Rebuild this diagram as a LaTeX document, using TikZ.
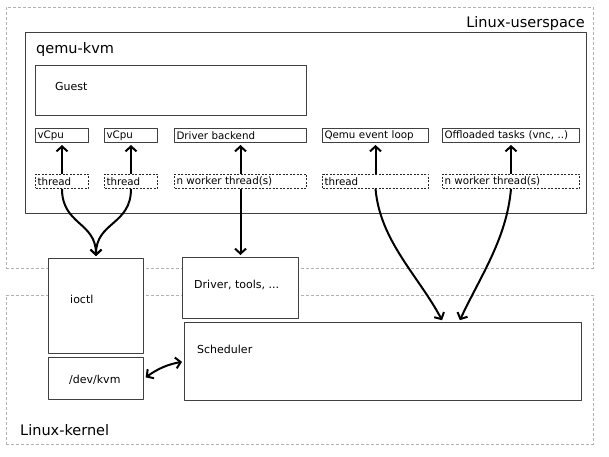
\documentclass[tikz,border=0pt]{standalone}
\usepackage{fontspec}
\setmainfont{DejaVu Sans}
\usetikzlibrary{arrows.meta,positioning}

\begin{document}
\begin{tikzpicture}[
    x = 1pt, y = -1pt, % one unit per pixel, y running down
    > = {Straight Barb[length=5pt,width=11pt]}, % arrow head style
    shorten > = 2pt, % don't touch arrow head to node
    line join = round
    ]

    \tikzset{
    zone/.style = {draw = gray!60, dash pattern = on 3pt off 2pt, line width = 0.6pt, anchor = north west, inner sep = 0pt},
    box/.style = {draw = black!75, fill = white, line width = 1pt, anchor = north west, inner sep = 0pt},
    unit/.style = {box, minimum height = 14pt, text width = #1, inner xsep = 2pt, align = left, font = \fontsize{10.3}{12}\selectfont},
    thrd/.style = {unit = #1, draw = black!85, line width = 0.8pt, dash pattern = on 2pt off 1.5pt},
    tag/.style = {anchor = base west, inner sep = 0pt, font = \fontsize{11}{13}\selectfont},
    title/.style = {anchor = base west, inner sep = 0pt, font = \fontsize{14.5}{17}\selectfont},
    link/.style = {->, line width = 2pt, black}
    }
    \useasboundingbox (0,0) rectangle (609,456);

    % user space and kernel
    \node[zone, minimum width = 587pt, minimum height = 261pt] (user) at (6,7) {};
    \node[zone, minimum width = 587pt, minimum height = 149pt] (kern) at (6,295) {};
    \node[title, anchor = base east] (userlbl) at (585,27) {Linux-userspace};
    \node[title] (kernlbl) at (20,435) {Linux-kernel};

    % qemu process
    \node[box, minimum width = 561pt, minimum height = 181pt] (qemu) at (25,32) {};
    \node[title] (qemulbl) at (36,53) {qemu-kvm};
    \node[box, minimum width = 271pt, minimum height = 50pt] (guest) at (35,65) {};
    \node[tag] (guestlbl) at (55,90) {Guest};

    \node[unit = 49pt] (vcpuA) at (35,128) {vCpu};
    \node[unit = 49pt] (vcpuB) at (104,128) {vCpu};
    \node[unit = 128pt] (backend) at (174,128) {Driver backend};
    \node[unit = 102pt] (evloop) at (322,128) {Qemu event loop};
    \node[unit = 133pt] (offload) at (442,128) {Offloaded tasks (vnc, ..)};

    \node[thrd = 49pt] (tA) [below = 31pt of vcpuA] {thread};
    \node[thrd = 49pt] (tB) [below = 31pt of vcpuB] {thread};
    \node[thrd = 128pt] (tC) [below = 31pt of backend] {n worker thread(s)};
    \node[thrd = 102pt] (tD) [below = 31pt of evloop] {thread};
    \node[thrd = 133pt] (tE) [below = 31pt of offload] {n worker thread(s)};

    % kernel side
    \node[box, minimum width = 95pt, minimum height = 95pt] (ioctl) at (48,258) {};
    \node[tag] (ioctllbl) at (70,303) {ioctl};
    \node[box, minimum width = 95pt, minimum height = 42pt] (kvm) at (48,357) {};
    \node[tag] (kvmlbl) at (69,383) {/dev/kvm};
    \node[box, minimum width = 116pt, minimum height = 61pt] (drv) at (182,257) {};
    \node[tag] (drvlbl) at (194,288) {Driver, tools, ...};
    \node[box, minimum width = 397pt, minimum height = 78pt] (sched) at (184,322) {};
    \node[tag] (schedlbl) at (197,353) {Scheduler};

    \path[link] (tA) edge (vcpuA);
    \path[link] (tB) edge (vcpuB);
    \path[link] (tC) edge (backend);
    \path[link] (tD) edge (evloop);
    \path[link] (tE) edge (offload);

    \path[link] (tA) edge[out = -90, in = 90, looseness = 1.2] (ioctl);
    \path[link] (tB) edge[out = -90, in = 90, looseness = 1.2] (ioctl);
    \path[link] (tC) edge (drv);
    \path[link] (tD.south) edge[out = -85, in = 118, looseness = 0.9] ([xshift = 60pt]sched.north);
    \path[link] (tE.south) edge[out = -95, in = 65, looseness = 0.9] ([xshift = 76pt]sched.north);
    \path[link, <->, shorten < = 2pt] (kvm.east) edge[out = 35, in = 190] (sched.west);
\end{tikzpicture}
\end{document}
